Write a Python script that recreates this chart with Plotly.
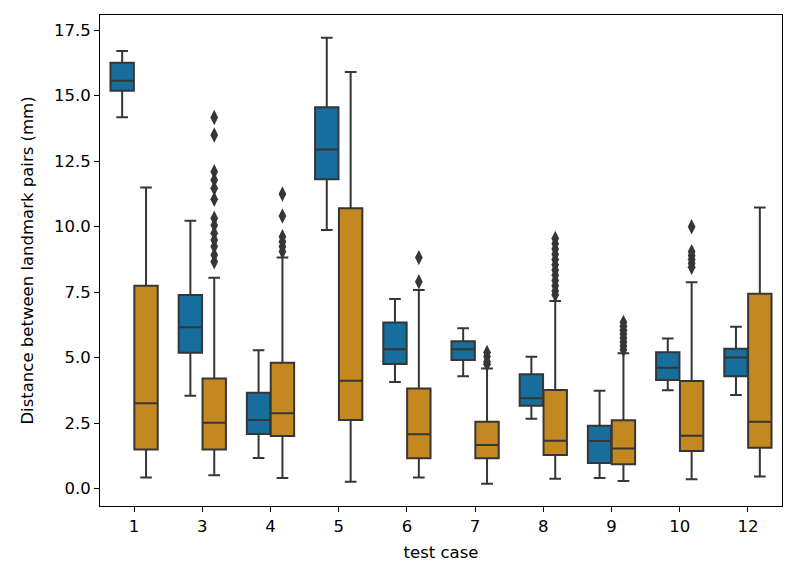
import plotly.graph_objects as go

cases = ["1", "3", "4", "5", "6", "7", "8", "9", "10", "12"]

# hue 1 (blue)
blue_low = [14.18, 3.55, 1.17, 9.87, 4.07, 4.29, 2.67, 0.41, 3.76, 3.58]
blue_q1 = [15.19, 5.19, 2.09, 11.81, 4.76, 4.91, 3.17, 0.98, 4.15, 4.29]
blue_med = [15.57, 6.16, 2.62, 12.95, 5.32, 5.32, 3.45, 1.82, 4.62, 5.01]
blue_q3 = [16.26, 7.39, 3.66, 14.56, 6.34, 5.63, 4.37, 2.40, 5.21, 5.34]
blue_high = [16.71, 10.23, 5.28, 17.21, 7.24, 6.12, 5.04, 3.74, 5.73, 6.18]

# hue 2 (orange)
orange_low = [0.43, 0.51, 0.41, 0.27, 0.43, 0.19, 0.38, 0.29, 0.36, 0.47]
orange_q1 = [1.50, 1.50, 2.01, 2.62, 1.16, 1.16, 1.29, 0.93, 1.44, 1.56]
orange_med = [3.26, 2.52, 2.88, 4.12, 2.08, 1.67, 1.83, 1.53, 2.02, 2.56]
orange_q3 = [7.75, 4.21, 4.81, 10.70, 3.82, 2.56, 3.77, 2.61, 4.11, 7.44]
orange_high = [11.50, 8.05, 8.82, 15.90, 7.58, 4.59, 7.16, 5.17, 7.88, 10.73]

orange_outliers = [
    [],
    [14.17, 13.50, 12.10, 11.78, 11.47, 11.05, 10.32, 10.06, 9.75, 9.49, 9.24, 8.92, 8.66],
    [11.25, 10.41, 9.62, 9.43, 9.24, 9.05],
    [],
    [8.82, 7.90],
    [5.20, 5.05, 4.85, 4.75],
    [9.55, 9.35, 9.15, 8.95, 8.75, 8.55, 8.35, 8.15, 7.95, 7.75, 7.55, 7.40],
    [6.35, 6.20, 6.05, 5.90, 5.75, 5.60, 5.45, 5.30],
    [10.00, 9.05, 8.90, 8.75, 8.60, 8.45],
    [],
]

BLUE = "#176d9c"
ORANGE = "#c3881f"
GRAY = "#363636"
OFFSET = 0.175
BOXW = 0.343

idx = list(range(len(cases)))
fig = go.Figure()

for low, q1, med, q3, high, col, off in [
    (blue_low, blue_q1, blue_med, blue_q3, blue_high, BLUE, -OFFSET),
    (orange_low, orange_q1, orange_med, orange_q3, orange_high, ORANGE, OFFSET),
]:
    fig.add_trace(go.Box(
        x=[i + off for i in idx],
        q1=q1, median=med, q3=q3, lowerfence=low, upperfence=high,
        width=BOXW, whiskerwidth=0.5,
        fillcolor=col, line=dict(color=GRAY, width=2),
        boxpoints=False, hoverinfo="skip", showlegend=False,
    ))

ox, oy = [], []
for i, outs in zip(idx, orange_outliers):
    for v in outs:
        ox.append(i + OFFSET)
        oy.append(v)
fig.add_trace(go.Scatter(
    x=ox, y=oy, mode="markers",
    marker=dict(symbol="diamond-tall", size=11, color=GRAY, line=dict(width=0)),
    showlegend=False, hoverinfo="skip",
))

font = dict(family="DejaVu Sans", size=16.5, color="black")
fig.update_layout(
    width=792, height=568,
    margin=dict(l=92, r=18, t=7, b=70, autoexpand=False),
    paper_bgcolor="white", plot_bgcolor="white",
    font=font,
    xaxis=dict(
        range=[-0.5, 9.5], tickvals=idx, ticktext=cases,
        showgrid=False, zeroline=False,
        showline=True, linecolor="black", linewidth=1, mirror=True,
        ticks="outside", ticklen=5, tickcolor="black",
        title=dict(text="test case", font=font, standoff=11),
    ),
    yaxis=dict(
        range=[-0.66, 18.08], tickvals=[0, 2.5, 5, 7.5, 10, 12.5, 15, 17.5],
        tickformat=".1f",
        showgrid=False, zeroline=False,
        showline=True, linecolor="black", linewidth=1, mirror=True,
        ticks="outside", ticklen=5, tickcolor="black",
        title=dict(text="Distance between landmark pairs (mm)", font=font, standoff=16),
    ),
)

fig.write_html("out.html")
